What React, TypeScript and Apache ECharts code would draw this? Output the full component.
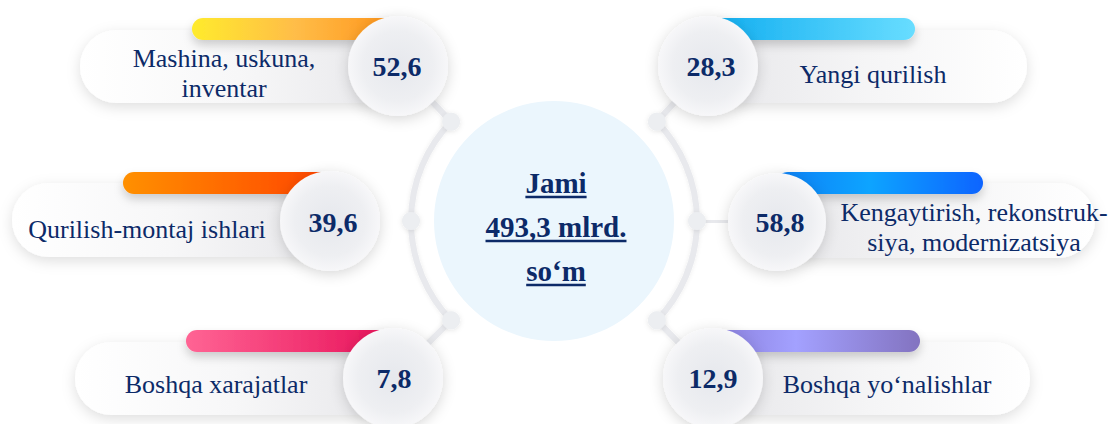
import React, { useEffect, useRef } from "react";
import * as echarts from "echarts";

// ---- data ----
const LABELS = [
  "Mashina, uskuna,\ninventar",
  "Qurilish-montaj ishlari",
  "Boshqa xarajatlar",
  "Yangi qurilish",
  "Kengaytirish, rekonstruk-\nsiya, modernizatsiya",
  "Boshqa yo‘nalishlar",
];
const VALUES = [52.6, 39.6, 7.8, 28.3, 58.8, 12.9];
const TOTAL = 493.3;
const TOTAL_PREFIX = "Jami";
const TOTAL_UNIT = "mlrd.";
const TOTAL_CURRENCY = "so‘m";

// ---- layout / style (not data) ----
const FONT = "'Liberation Serif', 'Times New Roman', serif";
const NAVY = "#0c2a68";
const CX = 554;
const CY = 221;
const ARC_R = 143;
const deg = (d: number) => (d * Math.PI) / 180;
const NODE_ANGLES = [224, 180, 136, -44, 0, 44];

type Card = {
  side: "L" | "R";
  c: [number, number, number];
  pill: [number, number, number, number];
  bar: [number, number, number, number];
  text: [number, number];
  val: [number, number];
  grad: [number, string][];
};

const CARDS: Card[] = [
  { side: "L", c: [398, 66, 50], pill: [80, 398, 30, 103], bar: [192, 398, 18, 40], text: [224, 73], val: [397, 66],
    grad: [[0, "#ffeb2c"], [0.5, "#ffbd48"], [1, "#ff931a"]] },
  { side: "L", c: [330, 221, 50], pill: [12, 330, 183, 257], bar: [123, 330, 172, 194], text: [147, 229], val: [333, 222],
    grad: [[0, "#ff9000"], [1, "#ff4400"]] },
  { side: "L", c: [393, 378, 50], pill: [75, 393, 342, 415], bar: [186, 393, 330, 352], text: [216, 384], val: [394, 378],
    grad: [[0, "#ff6494"], [1, "#e8125a"]] },
  { side: "R", c: [708, 66, 50], pill: [708, 1027, 30, 103], bar: [708, 915, 18, 40], text: [873, 74], val: [711, 66],
    grad: [[0, "#10adf0"], [1, "#68ddff"]] },
  { side: "R", c: [777, 222, 49], pill: [777, 1095, 183, 258], bar: [777, 983, 172, 194], text: [974, 227], val: [780, 222],
    grad: [[0, "#0c80f6"], [0.45, "#0ba4ff"], [1, "#0a64ff"]] },
  { side: "R", c: [713, 378, 50], pill: [713, 1030, 342, 415], bar: [713, 920, 330, 352], text: [887, 384], val: [713, 378],
    grad: [[0, "#8a7fdc"], [0.4, "#a3a1ff"], [1, "#8373c0"]] },
];

const fmt = (v: number) => v.toFixed(1).replace(".", ",");

function measure(text: string, font: string) {
  const ctx = document.createElement("canvas").getContext("2d");
  if (!ctx) return text.length * 14;
  ctx.font = font;
  return ctx.measureText(text).width;
}

function buildGraphics() {
  const els: any[] = [];
  const lineColor = "#e8e9ed";

  // center circle
  els.push({
    type: "circle",
    shape: { cx: CX, cy: CY, r: 120 },
    style: { fill: "#ebf6fd" },
    z: 1,
  });

  // arcs
  els.push({
    type: "arc",
    shape: { cx: CX, cy: CY, r: ARC_R, startAngle: deg(136), endAngle: deg(224), clockwise: true },
    style: { stroke: lineColor, lineWidth: 6, fill: "none", shadowBlur: 4, shadowColor: "rgba(0,0,0,0.08)" },
    z: 2,
  });
  els.push({
    type: "arc",
    shape: { cx: CX, cy: CY, r: ARC_R, startAngle: deg(-44), endAngle: deg(44), clockwise: true },
    style: { stroke: lineColor, lineWidth: 6, fill: "none", shadowBlur: 4, shadowColor: "rgba(0,0,0,0.08)" },
    z: 2,
  });

  CARDS.forEach((card, i) => {
    const a = deg(NODE_ANGLES[i]);
    const nx = CX + ARC_R * Math.cos(a);
    const ny = CY + ARC_R * Math.sin(a);
    const [ccx, ccy, cr] = card.c;

    // connector
    els.push({
      type: "line",
      shape: { x1: nx, y1: ny, x2: ccx, y2: ccy },
      style: { stroke: lineColor, lineWidth: 6, shadowBlur: 4, shadowColor: "rgba(0,0,0,0.08)" },
      z: 2,
    });
    // node
    els.push({
      type: "circle",
      shape: { cx: nx, cy: ny, r: 9 },
      style: { fill: "#eceef1", shadowBlur: 5, shadowColor: "rgba(0,0,0,0.10)", shadowOffsetY: 1 },
      z: 3,
    });

    // pill
    const [px0, px1, py0, py1] = card.pill;
    const pillGrad =
      card.side === "L"
        ? new echarts.graphic.LinearGradient(0, 0, 1, 0, [
            { offset: 0, color: "#ffffff" },
            { offset: 0.5, color: "#f7f7f8" },
            { offset: 1, color: "#e7e7ea" },
          ])
        : new echarts.graphic.LinearGradient(0, 0, 1, 0, [
            { offset: 0, color: "#e7e7ea" },
            { offset: 0.5, color: "#f5f5f6" },
            { offset: 1, color: "#ffffff" },
          ]);
    els.push({
      type: "rect",
      shape: { x: px0, y: py0, width: px1 - px0, height: py1 - py0, r: (py1 - py0) / 2 },
      style: { fill: pillGrad, shadowBlur: 14, shadowColor: "rgba(0,0,0,0.13)", shadowOffsetY: 4 },
      z: 4,
    });

    // colour bar
    const [bx0, bx1, by0, by1] = card.bar;
    els.push({
      type: "rect",
      shape: { x: bx0, y: by0, width: bx1 - bx0, height: by1 - by0, r: (by1 - by0) / 2 },
      style: {
        fill: new echarts.graphic.LinearGradient(0, 0, 1, 0, card.grad.map(([o, c]) => ({ offset: o, color: c }))),
        shadowBlur: 10,
        shadowColor: "rgba(0,0,0,0.18)",
        shadowOffsetY: 5,
      },
      z: 5,
    });

    // value circle
    els.push({
      type: "circle",
      shape: { cx: ccx, cy: ccy, r: cr },
      style: {
        fill: new echarts.graphic.RadialGradient(0.5, 0.5, 0.5, [
          { offset: 0, color: "#e6e8ed" },
          { offset: 0.7, color: "#eeeff2" },
          { offset: 1, color: "#f7f7f9" },
        ]),
        shadowBlur: 14,
        shadowColor: "rgba(0,0,0,0.16)",
        shadowOffsetY: 3,
      },
      z: 6,
    });

    // value text
    els.push({
      type: "text",
      x: card.val[0],
      y: card.val[1],
      style: {
        text: fmt(VALUES[i]),
        fill: NAVY,
        font: `bold 28px ${FONT}`,
        align: "center",
        verticalAlign: "middle",
      },
      z: 7,
    });

    // label text
    els.push({
      type: "text",
      x: card.text[0],
      y: card.text[1],
      style: {
        text: LABELS[i],
        fill: NAVY,
        font: `26px ${FONT}`,
        lineHeight: 30,
        align: "center",
        verticalAlign: "middle",
      },
      z: 7,
    });
  });

  // center text with underline
  const lines = [TOTAL_PREFIX, `${fmt(TOTAL)} ${TOTAL_UNIT}`, TOTAL_CURRENCY];
  const tx = 556;
  const ys = [183, 227, 271];
  const font = `bold 29px ${FONT}`;
  lines.forEach((t, k) => {
    els.push({
      type: "text",
      x: tx,
      y: ys[k],
      style: { text: t, fill: NAVY, font, align: "center", verticalAlign: "middle" },
      z: 8,
    });
    const w = measure(t, "bold 29px 'Liberation Serif'");
    els.push({
      type: "line",
      shape: { x1: tx - w / 2, y1: ys[k] + 14, x2: tx + w / 2, y2: ys[k] + 14 },
      style: { stroke: NAVY, lineWidth: 2.5 },
      z: 8,
    });
  });

  return els;
}

export default function App() {
  const ref = useRef<HTMLDivElement>(null);
  useEffect(() => {
    document.body.style.margin = "0";
    if (!ref.current) return;
    const chart = echarts.init(ref.current, undefined, { renderer: "svg" });
    chart.setOption({
      animation: false,
      backgroundColor: "#ffffff",
      graphic: { elements: buildGraphics() },
    });
    return () => chart.dispose();
  }, []);
  return (
    <div
      ref={ref}
      style={{ position: "absolute", left: 0, top: 0, width: 1115, height: 424 }}
    />
  );
}
